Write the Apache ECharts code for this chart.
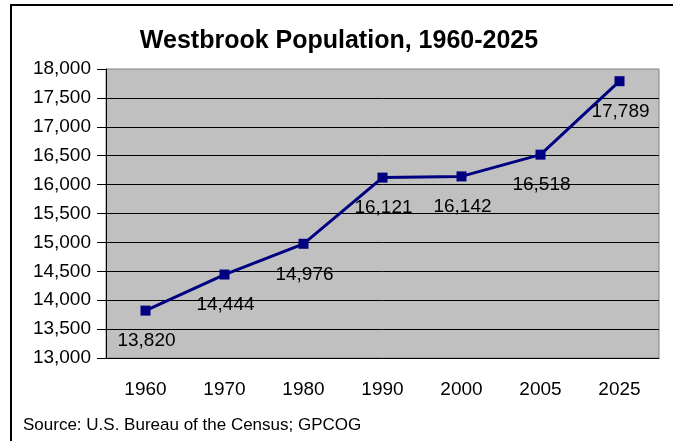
<!DOCTYPE html>
<html>
<head>
<meta charset="utf-8">
<script src="https://cdn.jsdelivr.net/npm/echarts@6/dist/echarts.min.js"></script>
<style>
  html, body { margin: 0; padding: 0; background: #fff; }
  #chart { position: absolute; left: 0; top: 0; width: 673px; height: 441px; }
  #frame { position: absolute; left: 10px; top: 4px; width: 663px; height: 437px;
           border-left: 2px solid #000; border-top: 2px solid #000; box-sizing: border-box; pointer-events: none; }
</style>
</head>
<body>
<div id="chart"></div>
<div id="frame"></div>
<script>
// census years + projection
var years = ['1960', '1970', '1980', '1990', '2000', '2005', '2025'];
var population = [13820, 14444, 14976, 16121, 16142, 16518, 17789];
var yMin = 13000, yMax = 18000, yStep = 500;

var fmt = function (v) { return Number(v).toLocaleString('en-US'); };
var font = 'Liberation Sans, Arial, sans-serif';

var chart = echarts.init(document.getElementById('chart'));
chart.setOption({
  animation: false,
  title: {
    text: 'Westbrook Population, 1960-2025',
    left: 334, top: 24, textAlign: 'center',
    textStyle: { fontFamily: font, fontSize: 25, fontWeight: 'bold', color: '#000' }
  },
  graphic: [{
    type: 'text', left: 23, top: 417,
    style: { text: 'Source: U.S. Bureau of the Census; GPCOG', font: '17px ' + font, fill: '#000' }
  }],
  grid: {
    left: 106, right: 14, top: 69, bottom: 83,
    show: true, backgroundColor: '#c0c0c0', borderColor: '#808080', borderWidth: 1
  },
  xAxis: {
    type: 'category',
    data: years,
    boundaryGap: true,
    axisLine: { lineStyle: { color: '#000', width: 1 } },
    axisTick: { length: 7, lineStyle: { color: '#000' } },
    axisLabel: { margin: 22, color: '#000', fontFamily: font, fontSize: 19 }
  },
  yAxis: {
    type: 'value',
    min: yMin, max: yMax, interval: yStep,
    axisLine: { show: true, lineStyle: { color: '#000', width: 1 } },
    axisTick: { show: true, length: 9, lineStyle: { color: '#000' } },
    axisLabel: { margin: 15, color: '#000', fontFamily: font, fontSize: 19, formatter: fmt },
    splitLine: { show: true, showMinLine: false, showMaxLine: false, lineStyle: { color: '#000', width: 1 } }
  },
  series: [{
    type: 'line',
    data: population,
    symbol: 'rect',
    symbolSize: 10,
    lineStyle: { color: '#000080', width: 3 },
    itemStyle: { color: '#000080' },
    label: {
      show: true, position: 'bottom', distance: 16, offset: [1, 0],
      color: '#000', fontFamily: font, fontSize: 19,
      formatter: function (p) { return fmt(p.value); }
    }
  }]
});
</script>
</body>
</html>
